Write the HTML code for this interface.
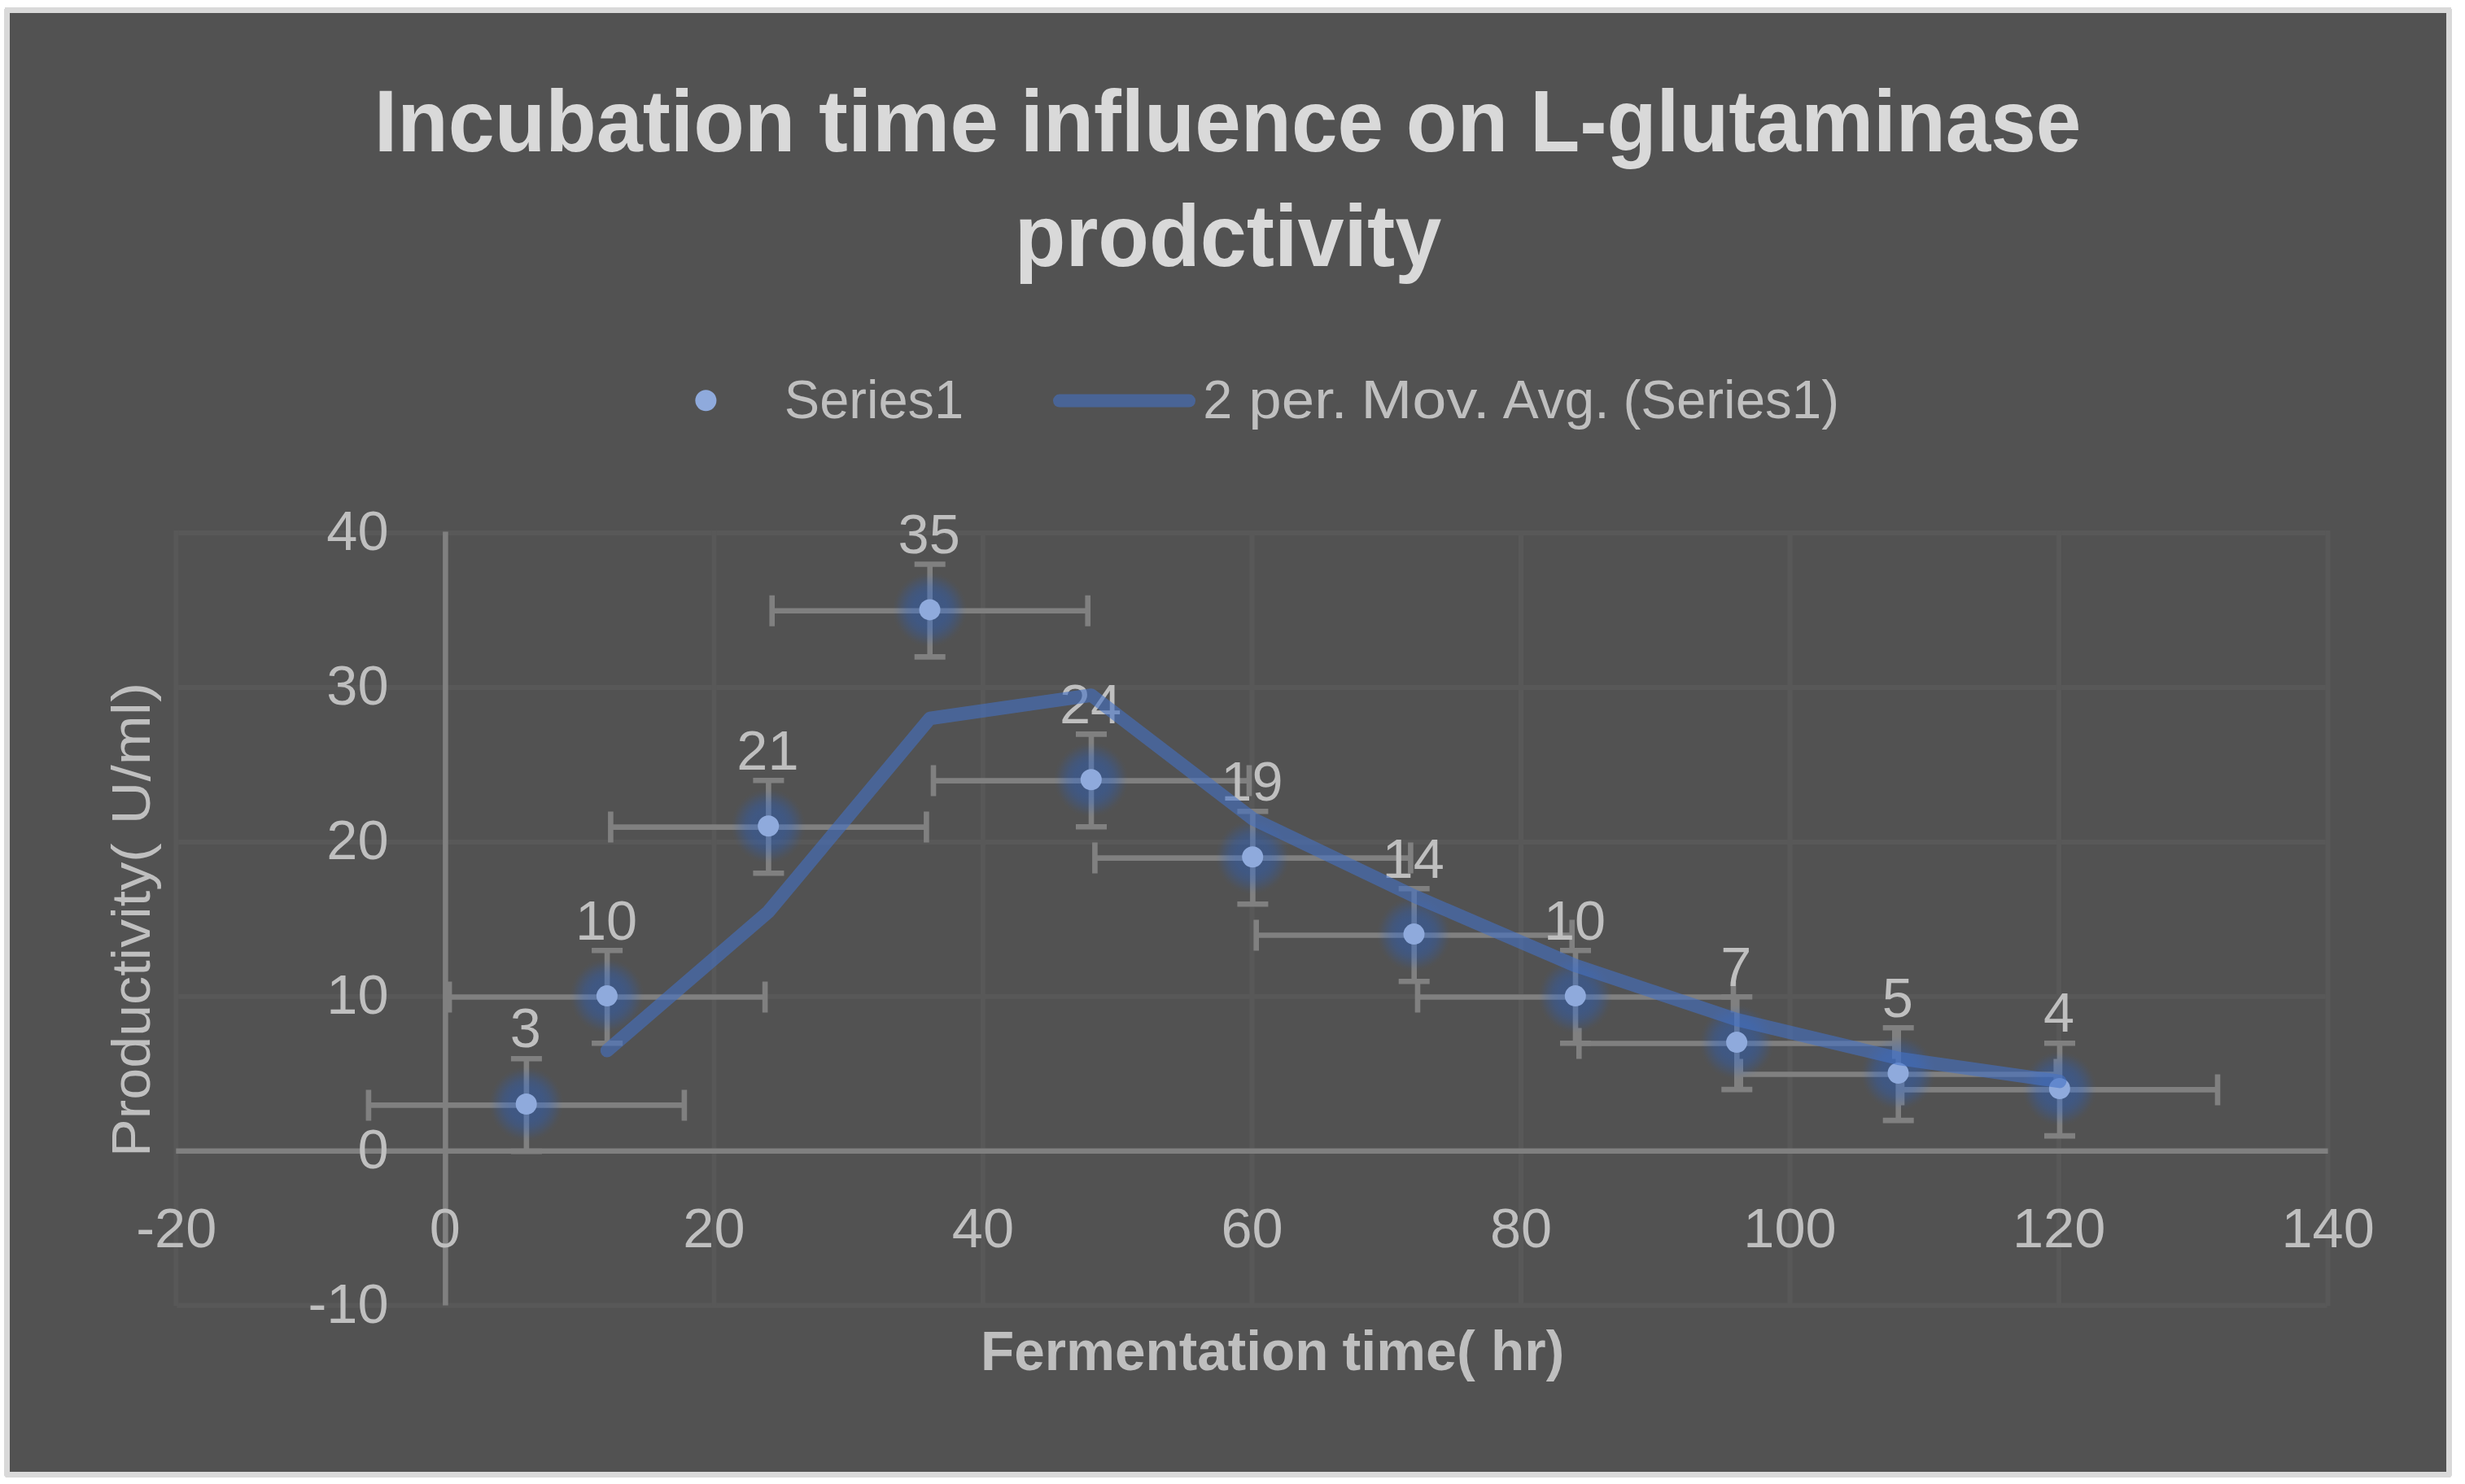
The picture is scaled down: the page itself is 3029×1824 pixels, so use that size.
<!DOCTYPE html>
<html lang="en"><head><meta charset="utf-8"><title>Incubation time influence on L-glutaminase prodctivity</title>
<style>
html,body{margin:0;padding:0;background:#fff;}
body{width:3029px;height:1824px;overflow:hidden;}
svg{display:block;}
text{font-family:"Liberation Sans",sans-serif;}
.t{fill:#BFBFBF;font-size:68.5px;}
</style></head><body>
<svg width="3029" height="1824" viewBox="0 0 3029 1824">
<defs>
<radialGradient id="glow" cx="0.5" cy="0.5" r="0.5">
<stop offset="0.00" stop-color="#1465F4" stop-opacity="0.31"/>
<stop offset="0.45" stop-color="#1465F4" stop-opacity="0.30"/>
<stop offset="0.62" stop-color="#1465F4" stop-opacity="0.24"/>
<stop offset="0.78" stop-color="#1465F4" stop-opacity="0.13"/>
<stop offset="0.92" stop-color="#1465F4" stop-opacity="0.03"/>
<stop offset="1.00" stop-color="#1465F4" stop-opacity="0.00"/>
</radialGradient>
</defs>
<rect x="0" y="0" width="3029" height="1824" fill="#ffffff"/>
<path d="M6 9H3012V11H3013V1813.5L3011 1816H7L5 1813.5V11H6Z" fill="#D9D9D9"/>
<rect x="12" y="16" width="2994" height="1793" fill="#525252"/>
<g stroke="#585858" stroke-width="6" fill="none">
<line x1="217.3" y1="655.1" x2="2859.6" y2="655.1"/>
<line x1="217.3" y1="845.0" x2="2859.6" y2="845.0"/>
<line x1="217.3" y1="1034.9" x2="2859.6" y2="1034.9"/>
<line x1="217.3" y1="1224.8" x2="2859.6" y2="1224.8"/>
<line x1="217.3" y1="1604.6" x2="2859.6" y2="1604.6"/>
<line x1="216.3" y1="652.1" x2="216.3" y2="1605.1"/>
<line x1="877.4" y1="652.1" x2="877.4" y2="1605.1"/>
<line x1="1207.9" y1="652.1" x2="1207.9" y2="1605.1"/>
<line x1="1538.5" y1="652.1" x2="1538.5" y2="1605.1"/>
<line x1="1869.0" y1="652.1" x2="1869.0" y2="1605.1"/>
<line x1="2199.5" y1="652.1" x2="2199.5" y2="1605.1"/>
<line x1="2530.1" y1="652.1" x2="2530.1" y2="1605.1"/>
<line x1="2860.6" y1="652.1" x2="2860.6" y2="1605.1"/>
</g>
<g stroke="#808080" stroke-width="6.6" fill="none">
<line x1="216.3" y1="1414.7" x2="2860.6" y2="1414.7"/>
<line x1="547.4" y1="653.6" x2="547.4" y2="1604.6"/>
</g>
<g class="t">
<text transform="translate(477.5 676.3) scale(1 1.01)" text-anchor="end">40</text>
<text transform="translate(477.5 866.2) scale(1 1.01)" text-anchor="end">30</text>
<text transform="translate(477.5 1056.1) scale(1 1.01)" text-anchor="end">20</text>
<text transform="translate(477.5 1246.0) scale(1 1.01)" text-anchor="end">10</text>
<text transform="translate(477.5 1435.9) scale(1 1.01)" text-anchor="end">0</text>
<text transform="translate(477.5 1625.8) scale(1 1.01)" text-anchor="end">-10</text>
<text transform="translate(216.8 1533.2) scale(1 1.01)" text-anchor="middle">-20</text>
<text transform="translate(546.8 1533.2) scale(1 1.01)" text-anchor="middle">0</text>
<text transform="translate(877.4 1533.2) scale(1 1.01)" text-anchor="middle">20</text>
<text transform="translate(1207.9 1533.2) scale(1 1.01)" text-anchor="middle">40</text>
<text transform="translate(1538.5 1533.2) scale(1 1.01)" text-anchor="middle">60</text>
<text transform="translate(1869.0 1533.2) scale(1 1.01)" text-anchor="middle">80</text>
<text transform="translate(2199.5 1533.2) scale(1 1.01)" text-anchor="middle">100</text>
<text transform="translate(2530.1 1533.2) scale(1 1.01)" text-anchor="middle">120</text>
<text transform="translate(2860.6 1533.2) scale(1 1.01)" text-anchor="middle">140</text>
</g>
<g stroke="#808080" stroke-width="6.6" fill="none">
<path d="M452.9 1358.4H840.9M452.9 1339.4v38.0M840.9 1339.4v38.0"/>
<path d="M646.9 1301.2V1415.1M627.9 1301.2h38.0M627.9 1415.1h38.0"/>
<path d="M552.1 1225.5H940.1M552.1 1206.5v38.0M940.1 1206.5v38.0"/>
<path d="M746.1 1168.2V1282.2M727.1 1168.2h38.0M727.1 1282.2h38.0"/>
<path d="M750.4 1016.6H1138.4M750.4 997.6v38.0M1138.4 997.6v38.0"/>
<path d="M944.4 959.3V1073.3M925.4 959.3h38.0M925.4 1073.3h38.0"/>
<path d="M948.7 750.8H1336.7M948.7 731.8v38.0M1336.7 731.8v38.0"/>
<path d="M1142.7 693.5V807.4M1123.7 693.5h38.0M1123.7 807.4h38.0"/>
<path d="M1147.0 959.6H1535.0M1147.0 940.6v38.0M1535.0 940.6v38.0"/>
<path d="M1341.0 902.4V1016.3M1322.0 902.4h38.0M1322.0 1016.3h38.0"/>
<path d="M1345.4 1054.6H1733.4M1345.4 1035.6v38.0M1733.4 1035.6v38.0"/>
<path d="M1539.4 997.3V1111.3M1520.4 997.3h38.0M1520.4 1111.3h38.0"/>
<path d="M1543.7 1149.5H1931.7M1543.7 1130.5v38.0M1931.7 1130.5v38.0"/>
<path d="M1737.7 1092.3V1206.2M1718.7 1092.3h38.0M1718.7 1206.2h38.0"/>
<path d="M1742.0 1225.5H2130.0M1742.0 1206.5v38.0M2130.0 1206.5v38.0"/>
<path d="M1936.0 1168.2V1282.2M1917.0 1168.2h38.0M1917.0 1282.2h38.0"/>
<path d="M1940.3 1282.5H2328.3M1940.3 1263.5v38.0M2328.3 1263.5v38.0"/>
<path d="M2134.3 1225.2V1339.1M2115.3 1225.2h38.0M2115.3 1339.1h38.0"/>
<path d="M2138.7 1320.5H2526.7M2138.7 1301.5v38.0M2526.7 1301.5v38.0"/>
<path d="M2332.7 1263.2V1377.1M2313.7 1263.2h38.0M2313.7 1377.1h38.0"/>
<path d="M2337.0 1339.4H2725.0M2337.0 1320.4v38.0M2725.0 1320.4v38.0"/>
<path d="M2531.0 1282.2V1396.1M2512.0 1282.2h38.0M2512.0 1396.1h38.0"/>
</g>
<circle cx="646.7" cy="1357.0" r="46" fill="url(#glow)"/>
<circle cx="745.9" cy="1224.1" r="46" fill="url(#glow)"/>
<circle cx="944.2" cy="1015.2" r="46" fill="url(#glow)"/>
<circle cx="1142.5" cy="749.4" r="46" fill="url(#glow)"/>
<circle cx="1340.8" cy="958.2" r="46" fill="url(#glow)"/>
<circle cx="1539.2" cy="1053.2" r="46" fill="url(#glow)"/>
<circle cx="1737.5" cy="1148.1" r="46" fill="url(#glow)"/>
<circle cx="1935.8" cy="1224.1" r="46" fill="url(#glow)"/>
<circle cx="2134.1" cy="1281.1" r="46" fill="url(#glow)"/>
<circle cx="2332.5" cy="1319.0" r="46" fill="url(#glow)"/>
<circle cx="2530.8" cy="1338.0" r="46" fill="url(#glow)"/>
<circle cx="646.7" cy="1357.0" r="13" fill="#8FAADC"/>
<circle cx="745.9" cy="1224.1" r="13" fill="#8FAADC"/>
<circle cx="944.2" cy="1015.2" r="13" fill="#8FAADC"/>
<circle cx="1142.5" cy="749.4" r="13" fill="#8FAADC"/>
<circle cx="1340.8" cy="958.2" r="13" fill="#8FAADC"/>
<circle cx="1539.2" cy="1053.2" r="13" fill="#8FAADC"/>
<circle cx="1737.5" cy="1148.1" r="13" fill="#8FAADC"/>
<circle cx="1935.8" cy="1224.1" r="13" fill="#8FAADC"/>
<circle cx="2134.1" cy="1281.1" r="13" fill="#8FAADC"/>
<circle cx="2332.5" cy="1319.0" r="13" fill="#8FAADC"/>
<circle cx="2530.8" cy="1338.0" r="13" fill="#8FAADC"/>
<g class="t">
<text transform="translate(645.9 1287.4) scale(1 1.01)" text-anchor="middle">3</text>
<text transform="translate(745.1 1154.5) scale(1 1.01)" text-anchor="middle">10</text>
<text transform="translate(943.4 945.6) scale(1 1.01)" text-anchor="middle">21</text>
<text transform="translate(1141.7 679.8) scale(1 1.01)" text-anchor="middle">35</text>
<text transform="translate(1340.0 888.6) scale(1 1.01)" text-anchor="middle">24</text>
<text transform="translate(1538.4 983.6) scale(1 1.01)" text-anchor="middle">19</text>
<text transform="translate(1736.7 1078.5) scale(1 1.01)" text-anchor="middle">14</text>
<text transform="translate(1935.0 1154.5) scale(1 1.01)" text-anchor="middle">10</text>
<text transform="translate(2133.3 1211.5) scale(1 1.01)" text-anchor="middle">7</text>
<text transform="translate(2331.7 1249.5) scale(1 1.01)" text-anchor="middle">5</text>
<text transform="translate(2530.0 1268.4) scale(1 1.01)" text-anchor="middle">4</text>
</g>
<path d="M746.1 1291.3 L944.4 1120.4 L1142.7 883.0 L1341.0 854.5 L1539.4 1006.4 L1737.7 1101.4 L1936.0 1186.8 L2134.3 1253.3 L2332.7 1300.8 L2531.0 1329.2" fill="none" stroke="#4472C4" stroke-opacity="0.6" stroke-width="16.5" stroke-linecap="round" stroke-linejoin="round"/>
<circle cx="867.4" cy="492.3" r="13" fill="#8FAADC"/>
<line x1="1302" y1="492.6" x2="1461" y2="492.6" stroke="#4472C4" stroke-opacity="0.6" stroke-width="16" stroke-linecap="round"/>
<text x="459.82" y="185.8" fill="#D9D9D9" font-weight="bold" style="font-size:107px" textLength="517.57" lengthAdjust="spacingAndGlyphs">Incubation</text>
<text x="1005.96" y="185.8" fill="#D9D9D9" font-weight="bold" style="font-size:107px" textLength="221.20" lengthAdjust="spacingAndGlyphs">time</text>
<text x="1253.64" y="185.8" fill="#D9D9D9" font-weight="bold" style="font-size:107px" textLength="446.41" lengthAdjust="spacingAndGlyphs">influence</text>
<text x="1727.66" y="185.8" fill="#D9D9D9" font-weight="bold" style="font-size:107px" textLength="125.47" lengthAdjust="spacingAndGlyphs">on</text>
<text x="1880.35" y="185.8" fill="#D9D9D9" font-weight="bold" style="font-size:107px" textLength="676.99" lengthAdjust="spacingAndGlyphs">L-glutaminase</text>
<text x="1246.69" y="326.8" fill="#D9D9D9" font-weight="bold" style="font-size:107px" textLength="524.67" lengthAdjust="spacingAndGlyphs">prodctivity</text>
<text x="963.81" y="513.6" fill="#BFBFBF" style="font-size:67px" textLength="220.47" lengthAdjust="spacingAndGlyphs">Series1</text>
<text x="1478.37" y="513.6" fill="#BFBFBF" style="font-size:67px" textLength="36.04" lengthAdjust="spacingAndGlyphs">2</text>
<text x="1534.34" y="513.6" fill="#BFBFBF" style="font-size:67px" textLength="121.30" lengthAdjust="spacingAndGlyphs">per.</text>
<text x="1672.26" y="513.6" fill="#BFBFBF" style="font-size:67px" textLength="158.59" lengthAdjust="spacingAndGlyphs">Mov.</text>
<text x="1846.79" y="513.6" fill="#BFBFBF" style="font-size:67px" textLength="130.69" lengthAdjust="spacingAndGlyphs">Avg.</text>
<text x="1994.47" y="513.6" fill="#BFBFBF" style="font-size:67px" textLength="265.46" lengthAdjust="spacingAndGlyphs">(Series1)</text>
<text x="1204.97" y="1683.5" fill="#BFBFBF" font-weight="bold" style="font-size:68px" textLength="427.45" lengthAdjust="spacingAndGlyphs">Fermentation</text>
<text x="1649.44" y="1683.5" fill="#BFBFBF" font-weight="bold" style="font-size:68px" textLength="163.26" lengthAdjust="spacingAndGlyphs">time(</text>
<text x="1832.00" y="1683.5" fill="#BFBFBF" font-weight="bold" style="font-size:68px" textLength="90.17" lengthAdjust="spacingAndGlyphs">hr)</text>
<text transform="translate(184.4 1500) rotate(-90)" x="78.14" y="0" fill="#BFBFBF" style="font-size:67px" textLength="385.52" lengthAdjust="spacingAndGlyphs">Productivity(</text>
<text transform="translate(184.4 1500) rotate(-90)" x="486.55" y="0" fill="#BFBFBF" style="font-size:67px" textLength="174.88" lengthAdjust="spacingAndGlyphs">U/ml)</text>
</svg>
</body></html>
